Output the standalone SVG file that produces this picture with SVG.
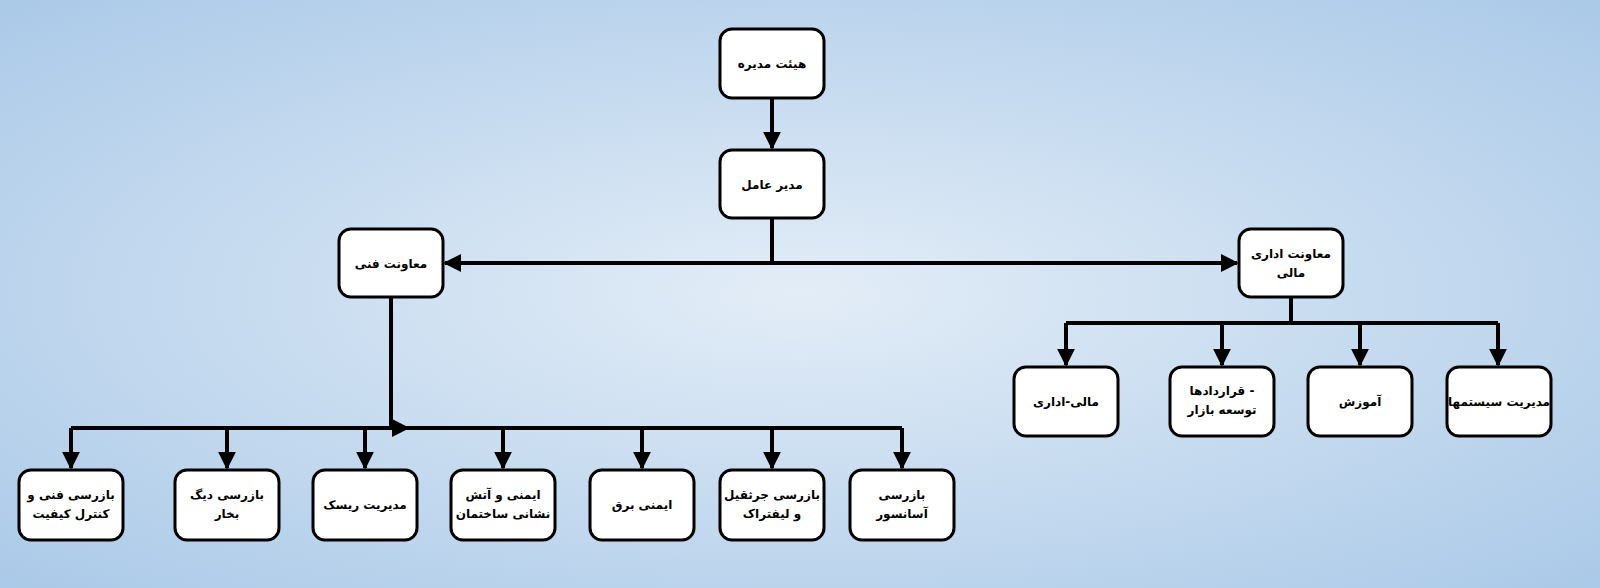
<svg xmlns="http://www.w3.org/2000/svg" width="1600" height="588" viewBox="0 0 1600 588">
<style>
.b{fill:#fff;stroke:#000;stroke-width:3}
.t{font-family:"DejaVu Sans","Noto Sans",sans-serif;font-weight:bold;font-size:12px;text-anchor:middle;fill:#000}
.c{stroke:#000;stroke-width:4;fill:none}
</style>
<defs>
<radialGradient id="bg" cx="0.5" cy="0.5" r="0.75">
<stop offset="0" stop-color="#e3edf7"/>
<stop offset="1" stop-color="#a7c7e7"/>
</radialGradient>
<marker id="a" viewBox="0 0 10 10" refX="9" refY="5" markerWidth="4.5" markerHeight="4.5" orient="auto" markerUnits="strokeWidth">
<path d="M0,0L10,5L0,10z" fill="#000"/>
</marker>
</defs>
<rect width="1600" height="588" fill="url(#bg)"/>
<g id="connectors">
<path class="c" d="M772,98V148" marker-end="url(#a)"/>
<path class="c" d="M772,218V263"/>
<path class="c" d="M772,263H445" marker-end="url(#a)"/>
<path class="c" d="M772,263H1237" marker-end="url(#a)"/>
<path class="c" d="M1291,297V323M1066,323H1498"/>
<path class="c" d="M1066,323V365" marker-end="url(#a)"/>
<path class="c" d="M1222,323V365" marker-end="url(#a)"/>
<path class="c" d="M1360,323V365" marker-end="url(#a)"/>
<path class="c" d="M1498,323V365" marker-end="url(#a)"/>
<path class="c" d="M391,297V428"/>
<path class="c" d="M391,428H408" marker-end="url(#a)"/>
<path class="c" d="M71,428H902"/>
<path class="c" d="M71,428V468" marker-end="url(#a)"/>
<path class="c" d="M227,428V468" marker-end="url(#a)"/>
<path class="c" d="M365,428V468" marker-end="url(#a)"/>
<path class="c" d="M503,428V468" marker-end="url(#a)"/>
<path class="c" d="M642,428V468" marker-end="url(#a)"/>
<path class="c" d="M772,428V468" marker-end="url(#a)"/>
<path class="c" d="M902,428V468" marker-end="url(#a)"/>
</g>
<g id="n1"><rect class="b" x="720" y="29" width="104" height="69" rx="12"/><text class="t" x="772" y="68">هیئت مدیره</text></g>
<g id="n2"><rect class="b" x="720" y="150" width="104" height="68" rx="12"/><text class="t" x="772" y="189">مدیر عامل</text></g>
<g id="n3"><rect class="b" x="339" y="229" width="104" height="68" rx="12"/><text class="t" x="391" y="268">معاونت فنی</text></g>
<g id="n4"><rect class="b" x="1239" y="229" width="104" height="68" rx="12"/><text class="t" x="1291" y="258">معاونت اداری</text><text class="t" x="1291" y="277">مالی</text></g>
<g id="r1"><rect class="b" x="1014" y="367" width="104" height="69" rx="12"/><text class="t" x="1066" y="406">مالی-اداری</text></g>
<g id="r2"><rect class="b" x="1170" y="367" width="104" height="69" rx="12"/><text class="t" x="1222" y="395">قراردادها -</text><text class="t" x="1222" y="414">توسعه بازار</text></g>
<g id="r3"><rect class="b" x="1308" y="367" width="104" height="69" rx="12"/><text class="t" x="1360" y="406">آموزش</text></g>
<g id="r4"><rect class="b" x="1447" y="367" width="104" height="69" rx="12"/><text class="t" x="1499" y="406">مدیریت سیستمها</text></g>
<g id="l1"><rect class="b" x="19" y="470" width="104" height="70" rx="12"/><text class="t" x="71" y="499">بازرسی فنی و</text><text class="t" x="71" y="518">کنترل کیفیت</text></g>
<g id="l2"><rect class="b" x="175" y="470" width="104" height="70" rx="12"/><text class="t" x="227" y="499">بازرسی دیگ</text><text class="t" x="227" y="518">بخار</text></g>
<g id="l3"><rect class="b" x="313" y="470" width="104" height="70" rx="12"/><text class="t" x="365" y="509">مدیریت ریسک</text></g>
<g id="l4"><rect class="b" x="451" y="470" width="104" height="70" rx="12"/><text class="t" x="503" y="499">ایمنی و آتش</text><text class="t" x="503" y="518">نشانی  ساختمان</text></g>
<g id="l5"><rect class="b" x="590" y="470" width="104" height="70" rx="12"/><text class="t" x="642" y="509">ایمنی برق</text></g>
<g id="l6"><rect class="b" x="720" y="470" width="104" height="70" rx="12"/><text class="t" x="772" y="499">بازرسی جرثقیل</text><text class="t" x="772" y="518">و لیفتراک</text></g>
<g id="l7"><rect class="b" x="850" y="470" width="104" height="70" rx="12"/><text class="t" x="902" y="499">بازرسی</text><text class="t" x="902" y="518">آسانسور</text></g>
</svg>
